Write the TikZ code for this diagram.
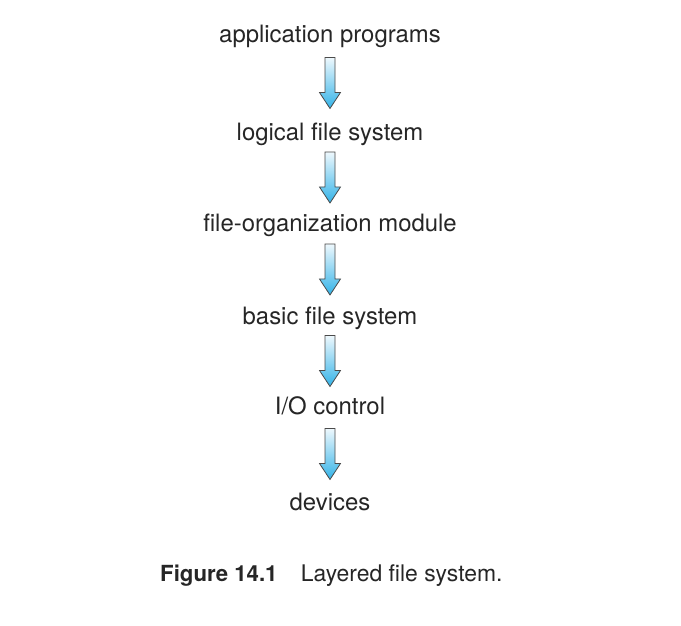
\documentclass[tikz,border=0pt]{standalone}
\usepackage{fontspec}
\setmainfont{TeX Gyre Heros}
\usetikzlibrary{calc}
\definecolor{arrtop}{HTML}{EEF8FD}
\definecolor{arrbot}{HTML}{33B3E8}
\definecolor{arrline}{HTML}{4A4A4A}
\tikzset{
  layer/.style={anchor=base, inner sep=0pt, font=\fontsize{23.9}{28}\selectfont, text=black!85},
  captext/.style={anchor=base west, inner sep=0pt, font=\fontsize{22.9}{27}\selectfont, text=black!85},
  blockarrow/.style={draw=arrline, line width=0.8pt, line join=miter, top color=arrtop, bottom color=arrbot}
}
\newcommand{\layerarrow}[2]{%
  \begin{scope}[shift={($(#1.base)!0.5!(#2.base)+(0,9)$)}]
    \draw[blockarrow] (-5,25.5) -- (5,25.5) -- (5,-9.5) -- (10.5,-9.5) -- (0,-25.5) -- (-10.5,-9.5) -- (-5,-9.5) -- cycle;
  \end{scope}}
\begin{document}
\begin{tikzpicture}[x=1pt,y=1pt]
  \useasboundingbox[fill=white] (0,0) rectangle (681,625);
  \node[layer] (app) at (330,582) {application programs};
  \node[layer] (lfs) at (330,484) {logical file system};
  \node[layer] (fom) at (330,393) {file-organization module};
  \node[layer] (bfs) at (330,300) {basic file system};
  \node[layer] (ioc) at (330,210) {I/O control};
  \node[layer] (dev) at (330,114) {devices};
  \layerarrow{app}{lfs}
  \layerarrow{lfs}{fom}
  \layerarrow{fom}{bfs}
  \layerarrow{bfs}{ioc}
  \layerarrow{ioc}{dev}
  \node[captext, font=\fontsize{22.2}{26}\selectfont\bfseries] (fig) at (160,44) {Figure 14.1};
  \node[captext] (title) at (300.7,44) {Layered file system.};
\end{tikzpicture}
\end{document}
